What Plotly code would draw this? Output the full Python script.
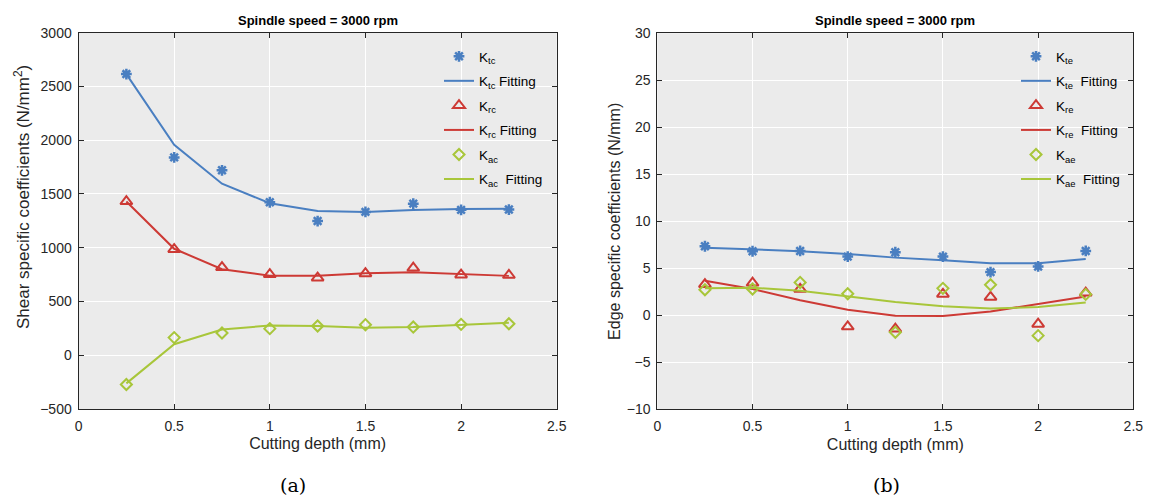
import plotly.graph_objects as go

depth = [0.25, 0.5, 0.75, 1.0, 1.25, 1.5, 1.75, 2.0, 2.25]

# (a) shear specific coefficients (N/mm^2)
ktc = [2615, 1840, 1720, 1423, 1248, 1333, 1410, 1352, 1355]
ktc_fit = [2615, 1958, 1595, 1414, 1342, 1332, 1350, 1360, 1362]
krc = [1430, 985, 818, 752, 720, 760, 812, 748, 745]
krc_fit = [1430, 990, 800, 740, 740, 762, 772, 757, 738]
kac = [-272, 164, 207, 247, 272, 284, 262, 287, 293]
kac_fit = [-262, 102, 240, 276, 272, 255, 262, 285, 302]

# (b) edge specific coefficients (N/mm)
kte = [7.35, 6.82, 6.85, 6.25, 6.71, 6.25, 4.6, 5.2, 6.85]
kte_fit = [7.2, 7.03, 6.82, 6.53, 6.14, 5.85, 5.53, 5.53, 6.0]
kre = [3.3, 3.45, 2.8, -1.2, -1.45, 2.26, 1.95, -0.92, 2.4]
kre_fit = [3.68, 2.8, 1.6, 0.6, -0.03, -0.07, 0.42, 1.2, 2.0]
kae = [2.72, 2.8, 3.5, 2.3, -1.8, 2.87, 3.26, -2.16, 2.23]
kae_fit = [2.87, 2.94, 2.62, 2.02, 1.42, 0.96, 0.74, 0.88, 1.38]

x_ticks = [0, 0.5, 1, 1.5, 2, 2.5]
x_tick_text = ["0", "0.5", "1", "1.5", "2", "2.5"]
y1_ticks = [-500, 0, 500, 1000, 1500, 2000, 2500, 3000]
y2_ticks = [-10, -5, 0, 5, 10, 15, 20, 25, 30]

BLUE = "#4a7fc1"
RED = "#cd3a35"
GREEN = "#a8c63a"
AXC = "#262626"
FONT = "Liberation Sans, Arial, sans-serif"

fig = go.Figure()


def add_pair(x, ymark, yfit, sym, color, name, xa, ya, leg, msize, mlw, fitname):
    fig.add_trace(go.Scatter(
        x=x, y=ymark, mode="markers", name=name, xaxis=xa, yaxis=ya, legend=leg,
        legendgroup=leg + name + "m",
        marker=dict(symbol=sym, size=msize, color=color, line=dict(color=color, width=mlw))))
    fig.add_trace(go.Scatter(
        x=x, y=yfit, mode="lines", name=fitname, xaxis=xa, yaxis=ya, legend=leg,
        legendgroup=leg + name + "f",
        line=dict(color=color, width=2)))


add_pair(depth, ktc, ktc_fit, "asterisk-open", BLUE, "K<sub>tc</sub>", "x", "y", "legend", 9, 2.5,
         "K<sub>tc</sub> Fitting")
add_pair(depth, krc, krc_fit, "triangle-up-open", RED, "K<sub>rc</sub>", "x", "y", "legend", 10.5, 2,
         "K<sub>rc</sub> Fitting")
add_pair(depth, kac, kac_fit, "diamond-open", GREEN, "K<sub>ac</sub>", "x", "y", "legend", 8.5, 2,
         "K<sub>ac</sub>  Fitting")

add_pair(depth, kte, kte_fit, "asterisk-open", BLUE, "K<sub>te</sub>", "x2", "y2", "legend2", 9, 2.5,
         "K<sub>te</sub>  Fitting")
add_pair(depth, kre, kre_fit, "triangle-up-open", RED, "K<sub>re</sub>", "x2", "y2", "legend2", 10.5, 2,
         "K<sub>re</sub>  Fitting")
add_pair(depth, kae, kae_fit, "diamond-open", GREEN, "K<sub>ae</sub>", "x2", "y2", "legend2", 8.5, 2,
         "K<sub>ae</sub>  Fitting")

axis_common = dict(
    showline=True, linecolor=AXC, linewidth=1, mirror="ticks",
    ticks="inside", ticklen=5, tickcolor=AXC, tickwidth=1,
    showgrid=True, gridcolor="white", gridwidth=1, zeroline=False,
    automargin=False,
    tickfont=dict(family=FONT, size=14, color=AXC),
)
TITLE_FONT = dict(family=FONT, size=16, color=AXC)

fig.update_layout(
    width=1150, height=499, autosize=False,
    margin=dict(l=0, r=0, t=0, b=0, pad=0),
    paper_bgcolor="white", plot_bgcolor="#ebebeb",
    font=dict(family=FONT, color=AXC),
    xaxis=dict(domain=[0.0683, 0.4841], range=[0, 2.5], tickvals=x_ticks, ticktext=x_tick_text,
               anchor="y", ticklabelstandoff=4,
               title=dict(text="Cutting depth (mm)", font=TITLE_FONT, standoff=5),
               **axis_common),
    yaxis=dict(domain=[0.1804, 0.9345], range=[-500, 3000], tickvals=y1_ticks, anchor="x",
               ticklabelstandoff=3,
               **axis_common),
    xaxis2=dict(domain=[0.5716, 0.9855], range=[0, 2.5], tickvals=x_ticks, ticktext=x_tick_text,
                anchor="y2", ticklabelstandoff=4,
                title=dict(text="Cutting depth (mm)", font=TITLE_FONT, standoff=5),
                **axis_common),
    yaxis2=dict(domain=[0.1796, 0.9333], range=[-10, 30], tickvals=y2_ticks, anchor="x2",
                ticklabelstandoff=3,
                title=dict(text="Edge specific coefficients (N/mm)", font=TITLE_FONT, standoff=2),
                **axis_common),
    legend=dict(x=439 / 1150, y=1 - 41 / 499, xanchor="left", yanchor="top",
                bgcolor="rgba(0,0,0,0)", borderwidth=0, tracegroupgap=4,
                font=dict(family=FONT, size=13.5, color="black")),
    legend2=dict(x=1016 / 1150, y=1 - 41 / 499, xanchor="left", yanchor="top",
                 bgcolor="rgba(0,0,0,0)", borderwidth=0, tracegroupgap=4,
                 font=dict(family=FONT, size=13.5, color="black")),
    showlegend=True,
)

annotations = [
    dict(text="Shear specific coefficients (N/mm<sup>2</sup>)", x=22 / 1150, y=1 - 197 / 499,
         xref="paper", yref="paper", showarrow=False, textangle=-90,
         xanchor="center", yanchor="middle", font=dict(family=FONT, size=17, color=AXC)),
    dict(text="<b>Spindle speed = 3000 rpm</b>", x=317.6 / 1150, y=1 - 20 / 499, xref="paper", yref="paper",
         showarrow=False, xanchor="center", yanchor="middle", font=dict(family=FONT, size=13, color="black")),
    dict(text="<b>Spindle speed = 3000 rpm</b>", x=895.3 / 1150, y=1 - 20 / 499, xref="paper", yref="paper",
         showarrow=False, xanchor="center", yanchor="middle", font=dict(family=FONT, size=13, color="black")),
    dict(text="(a)", x=293 / 1150, y=1 - 485 / 499, xref="paper", yref="paper",
         showarrow=False, xanchor="center", yanchor="middle",
         font=dict(family="DejaVu Serif, Liberation Serif, serif", size=19, color="black")),
    dict(text="(b)", x=886 / 1150, y=1 - 485 / 499, xref="paper", yref="paper",
         showarrow=False, xanchor="center", yanchor="middle",
         font=dict(family="DejaVu Serif, Liberation Serif, serif", size=19, color="black")),
]
fig.update_layout(annotations=annotations)

fig.write_html("out.html")
